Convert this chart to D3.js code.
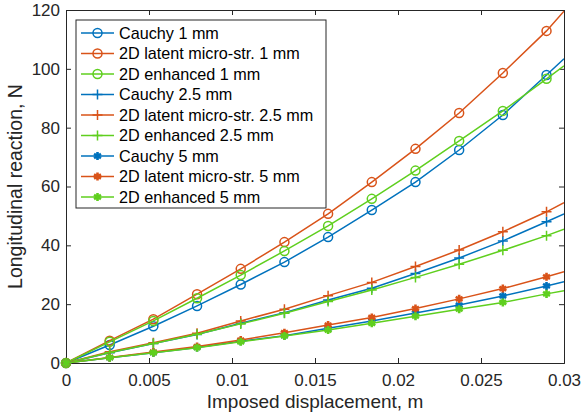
<!DOCTYPE html>
<html>
<head>
<meta charset="utf-8">
<script src="https://d3js.org/d3.v7.min.js"></script>
<style>
  body { margin: 0; background: #fff; font-family: "Liberation Sans", Arial, sans-serif; }
  .axis text { font-size: 17px; fill: #262626; font-family: "Liberation Sans", Arial, sans-serif; }
  .axis path, .axis line { stroke: #262626; }
</style>
</head>
<body>
<div id="chart"></div>
<script>
// displacement (m); last point has no marker
var displacement = [0, 0.002632, 0.005263, 0.007895, 0.010526, 0.013158, 0.015789,
                    0.018421, 0.021053, 0.023684, 0.026316, 0.028947, 0.03];

var cauchy1  = [0, 6.1, 12.5, 19.4, 26.7, 34.3, 42.8, 52.0, 61.5, 72.4, 84.3, 97.9, 103.4];
var latent1  = [0, 7.6, 14.9, 23.4, 32.0, 41.1, 50.7, 61.5, 72.8, 85.0, 98.6, 112.9, 119.6];
var enh1     = [0, 7.2, 14.3, 22.0, 29.9, 38.1, 46.6, 55.8, 65.4, 75.5, 85.7, 96.6, 101.0];
var cauchy25 = [0, 3.5, 6.6, 9.7, 13.5, 17.1, 21.4, 25.4, 30.4, 35.7, 41.5, 48.0, 50.7];
var latent25 = [0, 3.8, 6.9, 10.1, 14.3, 18.3, 22.9, 27.4, 32.8, 38.4, 44.6, 51.4, 54.5];
var enh25    = [0, 3.6, 6.6, 9.8, 13.3, 16.9, 20.9, 24.8, 29.1, 33.6, 38.3, 43.3, 45.5];
var cauchy5  = [0, 1.8, 3.5, 5.3, 7.4, 9.3, 11.8, 14.3, 17.0, 19.7, 22.8, 26.2, 27.6];
var latent5  = [0, 1.9, 3.7, 5.6, 7.8, 10.3, 12.9, 15.5, 18.5, 21.8, 25.3, 29.3, 31.0];
var enh5     = [0, 1.8, 3.5, 5.2, 7.2, 9.2, 11.2, 13.5, 15.9, 18.3, 20.6, 23.5, 24.6];

var xTicks = [0, 0.005, 0.01, 0.015, 0.02, 0.025, 0.03];
var yTicks = [0, 20, 40, 60, 80, 100, 120];

var blue = "#0072BD", orange = "#D95319", green = "#5FCF1E";

var series = [
  { name: "Cauchy 1 mm", values: cauchy1, color: blue, marker: "circle" },
  { name: "2D latent micro-str. 1 mm", values: latent1, color: orange, marker: "circle" },
  { name: "2D enhanced 1 mm", values: enh1, color: green, marker: "circle" },
  { name: "Cauchy 2.5 mm", values: cauchy25, color: blue, marker: "plus" },
  { name: "2D latent micro-str. 2.5 mm", values: latent25, color: orange, marker: "plus" },
  { name: "2D enhanced 2.5 mm", values: enh25, color: green, marker: "plus" },
  { name: "Cauchy 5 mm", values: cauchy5, color: blue, marker: "star" },
  { name: "2D latent micro-str. 5 mm", values: latent5, color: orange, marker: "star" },
  { name: "2D enhanced 5 mm", values: enh5, color: green, marker: "star" }
];

var W = 581, H = 419;
var margin = { top: 10, right: 17, bottom: 56, left: 66 };
var w = W - margin.left - margin.right;
var h = H - margin.top - margin.bottom;

var svg = d3.select("#chart").append("svg")
  .attr("width", W).attr("height", H);
var g = svg.append("g").attr("transform", "translate(" + margin.left + "," + margin.top + ")");

var x = d3.scaleLinear().domain([0, 0.03]).range([0, w]);
var y = d3.scaleLinear().domain([0, 120]).range([h, 0]);

g.append("defs").append("clipPath").attr("id", "clip")
  .append("rect").attr("x", -6).attr("y", -6).attr("width", w + 6).attr("height", h + 12);

// axes with inward ticks (box)
g.append("g").attr("class", "axis").attr("transform", "translate(0," + h + ")")
  .call(d3.axisBottom(x).tickValues(xTicks).tickSize(-5).tickPadding(11).tickFormat(d3.format("")));
g.append("g").attr("class", "axis")
  .call(d3.axisTop(x).tickValues(xTicks).tickSize(-5).tickFormat(""));
g.append("g").attr("class", "axis")
  .call(d3.axisLeft(y).tickValues(yTicks).tickSize(-5).tickPadding(6));
g.append("g").attr("class", "axis").attr("transform", "translate(" + w + ",0)")
  .call(d3.axisRight(y).tickValues(yTicks).tickSize(-5).tickFormat(""));
g.selectAll(".axis .domain").attr("stroke-width", 1);

function drawMarker(sel, type, color, cx, cy) {
  if (type === "circle") {
    sel.append("circle").attr("cx", cx).attr("cy", cy).attr("r", 4.5)
      .attr("fill", "none").attr("stroke", color).attr("stroke-width", 1.5);
  } else if (type === "plus") {
    sel.append("path")
      .attr("d", "M" + (cx - 5) + "," + cy + "H" + (cx + 5) + "M" + cx + "," + (cy - 5) + "V" + (cy + 5))
      .attr("stroke", color).attr("stroke-width", 1.5).attr("fill", "none");
  } else {
    sel.append("path").attr("d", d3.symbol().type(d3.symbolAsterisk).size(45)())
      .attr("transform", "translate(" + cx + "," + cy + ")")
      .attr("stroke", color).attr("stroke-width", 2.6).attr("fill", "none");
  }
}

var line = d3.line()
  .x(function(d, i) { return x(displacement[i]); })
  .y(function(d) { return y(d); });

var plot = g.append("g").attr("clip-path", "url(#clip)");
series.forEach(function(s) {
  plot.append("path").datum(s.values)
    .attr("d", line).attr("fill", "none")
    .attr("stroke", s.color).attr("stroke-width", 1.5);
  var mg = plot.append("g");
  s.values.forEach(function(v, i) {
    if (i < s.values.length - 1) drawMarker(mg, s.marker, s.color, x(displacement[i]), y(v));
  });
});

// axis labels
svg.append("text").attr("x", margin.left + w / 2).attr("y", 408)
  .attr("text-anchor", "middle").attr("font-size", 19).attr("fill", "#262626")
  .text("Imposed displacement, m");
svg.append("text").attr("transform", "translate(22," + (margin.top + h / 2) + ") rotate(-90)")
  .attr("text-anchor", "middle").attr("font-size", 19.5).attr("fill", "#262626")
  .text("Longitudinal reaction, N");

// legend
var lg = g.append("g").attr("transform", "translate(10,10)");
lg.append("rect").attr("width", 250).attr("height", 188)
  .attr("fill", "#fff").attr("stroke", "#262626").attr("stroke-width", 1);
series.forEach(function(s, i) {
  var cy = 13 + i * 20.5;
  lg.append("line").attr("x1", 5).attr("x2", 38).attr("y1", cy).attr("y2", cy)
    .attr("stroke", s.color).attr("stroke-width", 1.5);
  drawMarker(lg, s.marker, s.color, 21.5, cy);
  lg.append("text").attr("x", 43).attr("y", cy).attr("dy", "0.35em")
    .attr("font-size", 16.2).attr("fill", "#000").text(s.name);
});
</script>
</body>
</html>
